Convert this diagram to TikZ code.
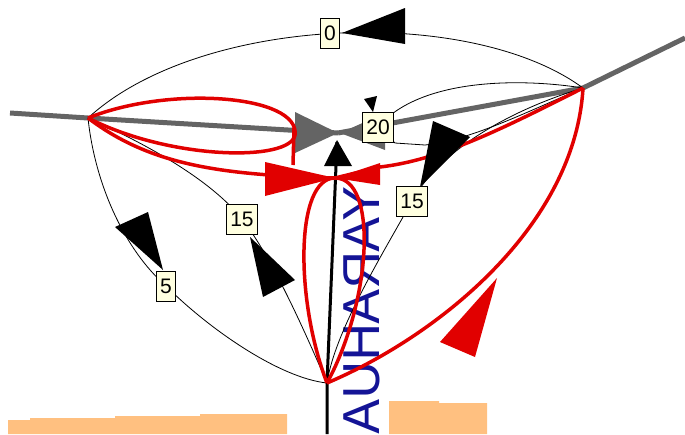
\documentclass[tikz,border=0pt]{standalone}
\usepackage{graphicx}
\usepackage{fontspec}
\setmainfont{Liberation Sans}
\definecolor{lblfill}{RGB}{255,255,224}
\definecolor{redc}{RGB}{225,0,0}
\definecolor{grayc}{RGB}{100,100,100}
\definecolor{orangec}{RGB}{255,192,128}
\definecolor{bluec}{RGB}{20,20,150}
\begin{document}
\begin{tikzpicture}[x=1pt,y=-1pt,
  lbl/.style={draw=black, fill=lblfill, line width=0.8pt, font=\fontsize{21}{21}\selectfont, inner xsep=4pt, inner ysep=0pt, minimum height=30pt},
  thinedge/.style={black, line width=0.8pt},
  rededge/.style={redc, line width=3.5pt},
  grayedge/.style={grayc, line width=5pt},
  vertedge/.style={black, line width=3pt},
  orangebox/.style={fill=orangec, draw=none},
  bluetext/.style={text=bluec, font=\fontsize{52}{52}\selectfont, inner sep=0pt}
]
\useasboundingbox (0,0) rectangle (685,434);
\clip (0,0) rectangle (685,434);
% vertices
\coordinate (A) at (88,118);
\coordinate (B) at (583,88);
\coordinate (C) at (327,383);
\coordinate (M) at (338,133);
\coordinate (Gl) at (10,113);
\coordinate (Gr) at (685,38);
\coordinate (Vb) at (327,434);
\coordinate (Vt) at (337,142);
\coordinate (Rm) at (335,178);
% label positions
\coordinate (p0) at (330,33);
\coordinate (p20) at (378,127);
\coordinate (p15a) at (242,219);
\coordinate (p5) at (166,286);
\coordinate (p15b) at (412,201);
% orange boxes
\fill[orangebox] (8,434) -- (8,420) -- (30,420) -- (30,418) -- (115,418) -- (115,416) -- (200,416) -- (200,414) -- (287,414) -- (287,434) -- cycle;
\fill[orangebox] (389,434) -- (389,401) -- (439,401) -- (439,403) -- (487,403) -- (487,434) -- cycle;
% blue rotated, mirrored text
\node[bluetext, rotate=90, anchor=base east] (txt) at (379,186) {\reflectbox{YARAHUA}};
% gray line
\draw[grayedge] (Gl) -- (A) -- (M);
\draw[grayedge] (Gr) -- (B) -- (M);
\fill[grayc] (295,112) -- (295,153) -- (M) -- cycle;
\fill[grayc] (385,113) -- (385,150) -- (340,133) -- cycle;
% thin black edges
\draw[thinedge] (A) .. controls (200,15) and (470,5) .. (B);
\draw[thinedge] (B) .. controls (520,78) and (420,78) .. (p20);
\draw[thinedge] (B) .. controls (520,115) and (470,140) .. (425,145) -- (395,143) -- (p20);
\draw[thinedge] (B) .. controls (510,110) and (440,150) .. (p15b) .. controls (385,250) and (335,330) .. (C);
\draw[thinedge] (A) .. controls (95,185) and (125,250) .. (p5) .. controls (210,330) and (280,378) .. (C);
\draw[thinedge] (A) .. controls (160,150) and (215,185) .. (p15a) .. controls (270,255) and (300,320) .. (C);
% vertical black line
\draw[vertedge] (Vb) -- (C) -- (Vt);
\fill[black] (324,166) -- (352,166) -- (337,140) -- cycle;
% red edges
\draw[rededge] (A) .. controls (170,85) and (300,95) .. (295,135) .. controls (290,162) and (170,160) .. (A);
\draw[rededge] (294,128) -- (293,165);
\draw[rededge] (A) .. controls (150,165) and (220,175) .. (Rm);
\draw[rededge] (B) .. controls (500,130) and (440,160) .. (380,167) -- (Rm);
\draw[rededge] (C) .. controls (295,300) and (295,178) .. (Rm) .. controls (378,178) and (372,300) .. (C);
\draw[rededge] (C) .. controls (440,335) and (575,225) .. (B);
\fill[redc] (265,162) -- (265,196) -- (Rm) -- cycle;
\fill[redc] (380,163) -- (380,185) -- (Rm) -- cycle;
\fill[redc] (497,278) -- (475,357) -- (440,342) -- cycle;
% black arrowheads
\fill[black] (342,33) -- (405,8) -- (405,44) -- cycle;
\fill[black] (115,227) -- (148,212) -- (163,270) -- cycle;
\fill[black] (250,237) -- (263,297) -- (295,280) -- cycle;
\fill[black] (433,121) -- (470,137) -- (420,187) -- cycle;
\fill[black] (364,99) -- (377,96) -- (373,112) -- cycle;
% labels
\node[lbl] (l0) at (p0) {0};
\node[lbl] (l20) at (p20) {20};
\node[lbl] (l15a) at (p15a) {15};
\node[lbl] (l5) at (p5) {5};
\node[lbl] (l15b) at (p15b) {15};
\end{tikzpicture}
\end{document}
